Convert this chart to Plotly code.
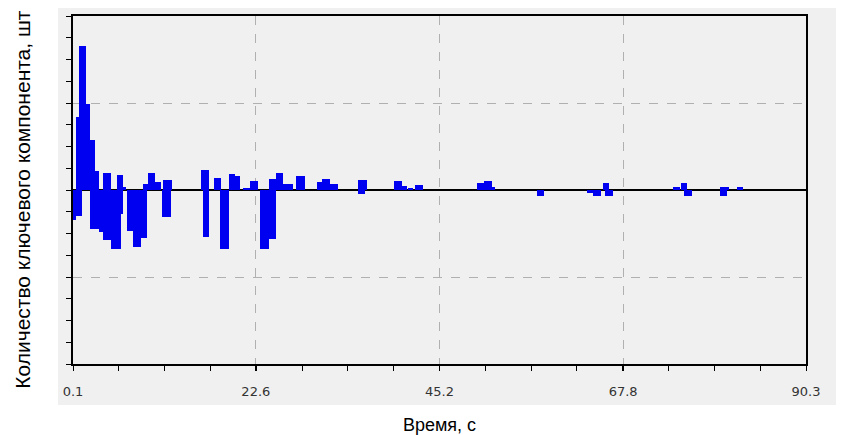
import plotly.graph_objects as go

# time intervals (s) and amounts
pos_start = [0.53, 0.78, 1.70, 2.13, 2.81, 3.79, 5.51, 6.31, 8.71, 9.33, 10.19, 11.18,
             15.79, 17.45, 19.30, 20.04, 21.08, 21.88, 24.16, 25.08, 25.94, 27.60,
             30.07, 30.68, 31.67, 35.23, 39.60, 40.53, 41.33, 42.19, 49.82, 50.62,
             51.60, 65.32, 73.94, 74.86, 79.72, 81.75]
pos_end = [0.78, 1.70, 2.13, 2.81, 3.30, 4.78, 6.31, 6.68, 9.33, 10.19, 10.93, 12.28,
           16.84, 18.37, 20.04, 20.65, 21.88, 22.87, 25.08, 25.94, 27.17, 28.65,
           30.68, 31.67, 32.65, 36.28, 40.53, 41.14, 41.94, 43.11, 50.62, 51.60,
           52.03, 66.06, 74.80, 75.60, 80.83, 82.55]
pos_val = [0.84, 1.66, 0.99, 0.57, 0.22, 0.20, 0.17, 0.03, 0.07, 0.19, 0.09, 0.12,
           0.23, 0.14, 0.18, 0.16, 0.02, 0.10, 0.13, 0.20, 0.07, 0.16,
           0.09, 0.13, 0.07, 0.12, 0.10, 0.05, 0.02, 0.06, 0.08, 0.10,
           0.03, 0.08, 0.03, 0.08, 0.04, 0.03]

neg_start = [0.14, 0.53, 2.13, 3.34, 3.83, 4.74, 5.97, 6.71, 7.45, 8.41, 11.11,
             16.04, 18.25, 23.17, 24.16, 35.23, 57.14, 63.29, 64.09, 65.57, 75.23, 79.72]
neg_end = [0.53, 1.21, 3.34, 3.83, 4.74, 5.97, 6.29, 7.45, 8.41, 9.21, 12.22,
           16.84, 19.30, 24.16, 25.14, 36.03, 58.06, 64.09, 65.02, 66.55, 76.21, 80.52]
neg_val = [-0.35, -0.30, -0.45, -0.48, -0.58, -0.68, -0.28, -0.47, -0.66, -0.55, -0.31,
           -0.54, -0.68, -0.68, -0.56, -0.05, -0.07, -0.04, -0.07, -0.07, -0.07, -0.07]

x_ticks = [0.1, 22.6, 45.2, 67.8, 90.3]
x_labels = ["0.1", "22.6", "45.2", "67.8", "90.3"]

BLUE = "#0000f0"

fig = go.Figure()

for starts, ends, vals in [(pos_start, pos_end, pos_val), (neg_start, neg_end, neg_val)]:
    fig.add_trace(go.Bar(
        x=[(a + b) / 2 for a, b in zip(starts, ends)],
        y=vals,
        width=[b - a for a, b in zip(starts, ends)],
        base=0,
        marker=dict(color=BLUE, line=dict(width=0)),
        hoverinfo="skip"
    ))

# grey panel behind the plot area and tick labels
fig.add_shape(
    type="rect", xref="paper", yref="paper",
    x0=-0.0205, x1=1.06, y0=-0.118, y1=1.06,
    fillcolor="#f0f0f0", line=dict(width=0), layer="below"
)

# y title as an annotation: it sits a bit below the plot centre in the original
fig.add_annotation(
    text="Количество ключевого компонента, шт",
    xref="paper", yref="paper", x=-0.07, y=0.474,
    xanchor="center", yanchor="middle", textangle=-90,
    showarrow=False, font=dict(size=21, color="black")
)

# the page body adds an 8px margin, so the figure is offset by 8px
fig.update_layout(
    width=828, height=427,
    margin=dict(l=65, r=30, t=8, b=71),
    paper_bgcolor="white",
    plot_bgcolor="white",
    barmode="overlay",
    bargap=0,
    showlegend=False,
    font=dict(family="Liberation Sans, Arial, sans-serif", color="black"),
    xaxis=dict(
        range=[0.1, 90.3],
        automargin=False,
        tickmode="array",
        tickvals=x_ticks,
        ticktext=x_labels,
        ticks="outside", ticklen=5, tickcolor="black",
        ticklabelstandoff=10,
        tickfont=dict(family="DejaVu Sans", size=13, color="#333333"),
        showgrid=True, gridcolor="#b0b0b0", griddash="dash", gridwidth=1,
        minor=dict(tick0=0.1, dtick=22.55 / 4, ticks="outside", ticklen=5,
                   tickcolor="black", showgrid=False),
        showline=True, linecolor="black", linewidth=1.5, mirror=True,
        zeroline=False,
        title=dict(text="Время, с", font=dict(size=18), standoff=20),
    ),
    yaxis=dict(
        range=[-2, 2],
        automargin=False,
        dtick=1,
        showticklabels=False,
        ticks="outside", ticklen=5, tickcolor="black",
        showgrid=True, gridcolor="#b0b0b0", griddash="dash", gridwidth=1,
        minor=dict(dtick=0.25, ticks="outside", ticklen=5, tickcolor="black",
                   showgrid=False),
        showline=True, linecolor="black", linewidth=1.5, mirror=True,
        zeroline=True, zerolinecolor="black", zerolinewidth=2,
    ),
)

fig.write_html("out.html")
